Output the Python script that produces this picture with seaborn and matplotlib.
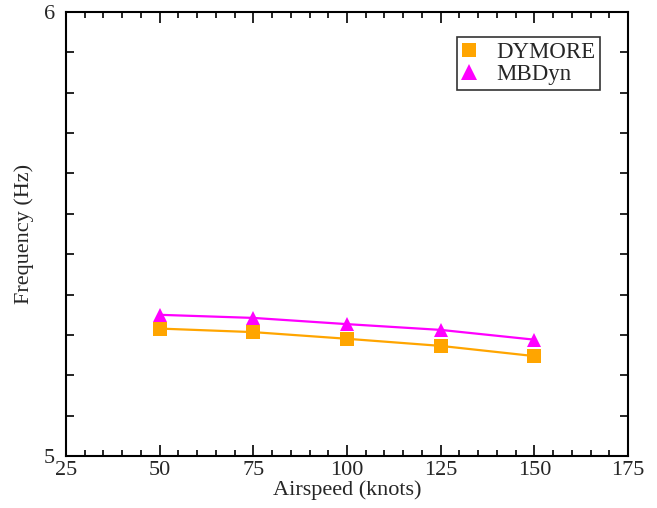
import matplotlib
matplotlib.use("Agg")
import matplotlib.pyplot as plt
import seaborn as sns
import pandas as pd
from matplotlib.ticker import MultipleLocator, FixedLocator
from matplotlib.lines import Line2D
import numpy as np

airspeed = [50, 75, 100, 125, 150]
dymore = [5.287, 5.279, 5.264, 5.248, 5.225]
mbdyn = [5.318, 5.311, 5.297, 5.284, 5.262]

sns.set_style("white")
plt.rcParams['font.family'] = ['Liberation Serif', 'DejaVu Serif']

df = pd.DataFrame({
    "Airspeed": airspeed * 2,
    "Frequency": dymore + mbdyn,
    "Code": ["DYMORE"] * len(airspeed) + ["MBDyn"] * len(airspeed),
})

fig = plt.figure(figsize=(6.57, 5.08), dpi=100)
ax = fig.add_axes([66/657, 52/508, 562/657, 444/508])

palette = {"DYMORE": "#FFA500", "MBDyn": "#FF00FF"}
markers = {"DYMORE": "s", "MBDyn": "^"}
sns.lineplot(data=df, x="Airspeed", y="Frequency", hue="Code", style="Code",
             palette=palette, markers=markers, dashes=False, linewidth=1.6,
             markersize=9.5, markeredgewidth=0, ax=ax, legend=False)

ax.set_xlim(25, 175)
ax.set_ylim(5, 6)
ax.xaxis.set_major_locator(MultipleLocator(25))
ax.xaxis.set_minor_locator(MultipleLocator(5))
ax.yaxis.set_major_locator(FixedLocator([5, 6]))
ax.yaxis.set_minor_locator(FixedLocator(list(5 + np.arange(1, 11) / 11)))
ax.tick_params(which="both", direction="in", top=True, right=True, left=True, bottom=True,
               width=1.2, color="black")
ax.tick_params(which="major", length=8, labelsize=16)
ax.tick_params(which="minor", length=4.5)
ax.tick_params(axis="y", which="minor", length=5.5)
ax.tick_params(axis="y", pad=8)
for s in ax.spines.values():
    s.set_linewidth(1.5)
    s.set_color("black")

ax.set_xlabel("Airspeed (knots)", fontsize=16, labelpad=0)
ax.set_ylabel("Frequency (Hz)", fontsize=16, labelpad=7)

handles = [Line2D([], [], color="#FFA500", marker="s", linestyle="none", markersize=10, markeredgewidth=0),
           Line2D([], [], color="#FF00FF", marker="^", linestyle="none", markersize=11, markeredgewidth=0)]
leg = ax.legend(handles, ["DYMORE", "MBDyn"], loc="upper right", bbox_to_anchor=(0.950, 0.943),
                borderaxespad=0, fontsize=16.5, frameon=True, fancybox=False, handlelength=0.6,
                handletextpad=0.9, borderpad=0.2, labelspacing=0.05)
leg.get_frame().set_edgecolor("black")
leg.get_frame().set_linewidth(1.2)

fig.savefig("out.png", dpi=100)
